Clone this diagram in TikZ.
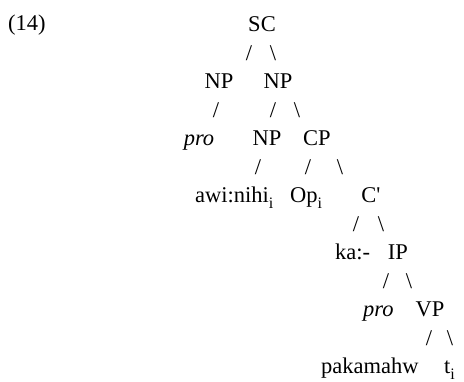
\documentclass[tikz,border=0pt]{standalone}
\usepackage{fontspec}
\newfontfamily\tf{Liberation Serif}
\tikzset{
  lab/.style={inner sep=0pt, anchor=base, font=\tf\fontsize{22.5}{27}\selectfont},
  labw/.style={lab, anchor=base west},
  br/.style={lab}
}
\newcommand{\bsl}{\textbackslash}
\newcommand{\subi}{\raisebox{-6pt}{\fontsize{16}{16}\selectfont i}}
\begin{document}
\begin{tikzpicture}[x=1pt,y=-1pt]
\useasboundingbox (0,0) rectangle (464,382);
\node[labw] (num) at (8,31) {(14)};
% row 0
\node[lab] (sc) at (262,32) {SC};
\node[br] (b1) at (249,60.5) {/};
\node[br] (b2) at (273,60.5) {\bsl};
% row 2
\node[lab] (np1) at (219,89) {NP};
\node[lab] (np2) at (278,89) {NP};
\node[br] (b3) at (216,117.5) {/};
\node[br] (b4) at (273,117.5) {/};
\node[br] (b5) at (297,117.5) {\bsl};
% row 4
\node[lab] (pro1) at (199,146) {\itshape pro};
\node[lab] (np3) at (267,146) {NP};
\node[lab] (cp) at (317,146) {CP};
\node[br] (b6) at (258,174.5) {/};
\node[br] (b7) at (308,174.5) {/};
\node[br] (b8) at (340,174.5) {\bsl};
% row 6
\node[labw] (awi) at (195,203) {awi:nihi\subi};
\node[labw] (op) at (290,203) {Op\subi};
\node[lab] (cbar) at (371,203) {C'};
\node[br] (b9) at (356,231.5) {/};
\node[br] (b10) at (381,231.5) {\bsl};
% row 8
\node[labw] (ka) at (335,260) {ka:-};
\node[lab] (ip) at (398,260) {IP};
\node[br] (b11) at (386,288.5) {/};
\node[br] (b12) at (409,288.5) {\bsl};
% row 10
\node[labw] (pro2) at (363,317) {\itshape pro};
\node[lab] (vp) at (430,317) {VP};
\node[br] (b13) at (429,345.5) {/};
\node[br] (b14) at (450,345.5) {\bsl};
% row 12
\node[labw] (pak) at (321,374) {pakamahw};
\node[labw] (t) at (444,374) {t\subi};
\end{tikzpicture}
\end{document}
